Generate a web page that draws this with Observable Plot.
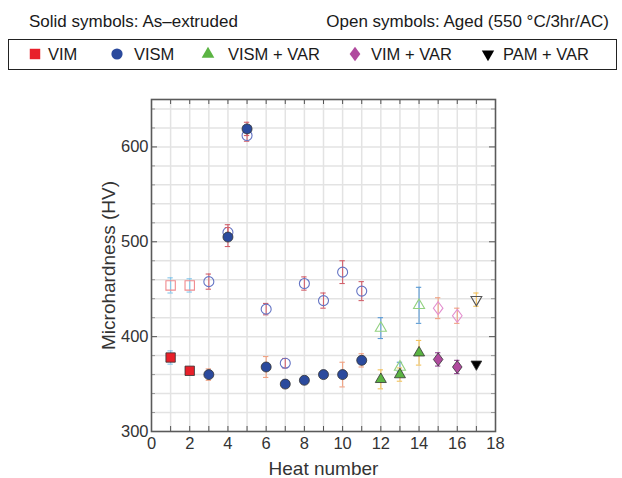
<!DOCTYPE html>
<html><head><meta charset="utf-8">
<script src="https://cdn.jsdelivr.net/npm/d3@7"></script>
<script src="https://cdn.jsdelivr.net/npm/@observablehq/plot@0.6"></script>
<style>
body{margin:0;width:622px;height:478px;position:relative;overflow:hidden;background:#fff;font-family:"Liberation Sans",Arial,sans-serif;color:#1a1a1a}
.hdr{position:absolute;top:12px;font-size:17px;line-height:19px;white-space:nowrap}
#legend{position:absolute;left:8px;top:38.5px;width:609px;height:31px;border:1.5px solid #222;box-sizing:border-box}
.sym{position:absolute;top:0}
.lt{position:absolute;font-size:16.5px;line-height:18px;white-space:nowrap}
#chart{position:absolute;left:0;top:78px}
#chart g[aria-label="x-axis label"] text,#chart g[aria-label="y-axis label"] text{font-size:19px}
</style></head>
<body>
<div class="hdr" style="left:29px">Solid symbols: As–extruded</div>
<div class="hdr" style="right:13px">Open symbols: Aged (550 °C/3hr/AC)</div>
<div id="legend"></div>
<div id="chart"></div>
<script>
// ---- data ----
const processes = ["VIM", "VISM", "VISM + VAR", "VIM + VAR", "PAM + VAR"];
const heats = [1, 2, 3, 4, 5, 6, 7, 8, 9, 10, 11, 12, 13, 14, 15, 16, 17];
const heatProcess = ["VIM", "VIM", "VISM", "VISM", "VISM", "VISM", "VISM", "VISM", "VISM", "VISM", "VISM",
  "VISM + VAR", "VISM + VAR", "VISM + VAR", "VIM + VAR", "VIM + VAR", "PAM + VAR"];
// As-extruded (solid symbols)
const solidHV  = [378, 364, 360, 505, 619, 368, 350, 354, 360, 360, 375, 355, 360, 383, 376, 368, 371];
const solidErr = [7, 1, 6, 10, 7, 11, 4, 4, 2, 13, 7, 10, 7, 13, 7, 7, 0];
// Aged 550 °C/3hr/AC (open symbols)
const agedHV  = [454, 454, 458, 510, 612, 429, 372, 456, 438, 468, 448, 409, 368, 433, 430, 422, 439];
const agedErr = [8, 7, 8, 8, 6, 6, 5, 7, 8, 12, 10, 11, 5, 19, 11, 8, 7];
const solidErrTone = ["lb", "lb", "sa", "rd", "rd", "sa", "sa", "sa", "rd", "sa", "sa", "ye", "ye", "ye", "pu", "pu", "ye"];
const agedErrTone  = ["lb", "lb", "rd", "rd", "rd", "rd", "rd", "rd", "rd", "rd", "rd", "bl", "bl", "bl", "sa", "sa", "ye"];

// ---- styles ----
const tones = {lb: "#86c6ea", bl: "#5b9bd5", rd: "#d2606b", sa: "#f0a283", ye: "#f3c35e", pu: "#8e408e"};
const downTriangle = {draw(ctx, size) {
  const y = -Math.sqrt(size / (Math.sqrt(3) * 3));
  ctx.moveTo(0, -2 * y); ctx.lineTo(-Math.sqrt(3) * y, y); ctx.lineTo(Math.sqrt(3) * y, y); ctx.closePath();
}};
const diamond = {draw(ctx, size) {
  const s = Math.sqrt(size), w = s * 0.52, h = s * 0.7;
  ctx.moveTo(0, -h); ctx.lineTo(w, 0); ctx.lineTo(0, h); ctx.lineTo(-w, 0); ctx.closePath();
}};
const procStyle = {
  "VIM":        {symbol: "square",   r: 5.3, fill: "#e8202a", open: "#f08a8e"},
  "VISM":       {symbol: "circle",   r: 5,   fill: "#2b4a9d", open: "#6474c4"},
  "VISM + VAR": {symbol: "triangle", r: 4.1, fill: "#5bb443", open: "#92d17f"},
  "VIM + VAR":  {symbol: diamond,    r: 5.2, fill: "#b04a9e", open: "#e38fcf"},
  "PAM + VAR":  {symbol: downTriangle, r: 4, fill: "#000000", open: "#555555"}
};

const rows = heats.map((h, i) => ({
  heat: h, process: heatProcess[i],
  solid: solidHV[i], solidErr: solidErr[i], solidTone: tones[solidErrTone[i]],
  aged: agedHV[i], agedErr: agedErr[i], agedTone: tones[agedErrTone[i]]
}));

// ---- legend ----
const legend = document.getElementById("legend");
const symX = [17, 99, 190, 337, 470];
const txtX = [39, 125, 219, 362, 494];
processes.forEach((p, i) => {
  const st = procStyle[p];
  const sym = typeof st.symbol === "string" ? {square: d3.symbolSquare, circle: d3.symbolCircle, triangle: d3.symbolTriangle}[st.symbol] : st.symbol;
  const svg = d3.create("svg").attr("class", "sym").attr("width", 18).attr("height", 28)
    .style("left", symX[i] + "px");
  svg.append("path").attr("transform", "translate(9,14)")
    .attr("d", d3.symbol(sym, Math.PI * (st.r + 0.6) ** 2)())
    .attr("fill", st.fill);
  legend.appendChild(svg.node());
  const t = document.createElement("div");
  t.className = "lt"; t.textContent = p;
  t.style.left = txtX[i] + "px"; t.style.top = "5px";
  legend.appendChild(t);
});

// ---- chart ----
const plotW = 622 - 151 - 127, plotH = 400 - 21 - 47;
const xTickVals = d3.range(1, 18);
const yMinor = d3.range(320, 650, 20).filter(v => v % 100 !== 0);
const yMajor = [400, 500, 600];

const marks = [
  Plot.gridX({ticks: xTickVals, stroke: "#e3e3e3", strokeOpacity: 1, strokeWidth: 1.5}),
  Plot.gridY({ticks: d3.range(320, 650, 20), stroke: "#e3e3e3", strokeOpacity: 1, strokeWidth: 1.5}),
  Plot.tickX(xTickVals, {x: d => d, insetTop: plotH - 5, stroke: "#555"}),
  Plot.tickX(xTickVals, {x: d => d, insetBottom: plotH - 5, stroke: "#555"}),
  Plot.tickY(yMinor, {y: d => d, insetRight: plotW - 4, stroke: "#999"}),
  Plot.tickY(yMinor, {y: d => d, insetLeft: plotW - 4, stroke: "#999"}),
  Plot.tickY(yMajor, {y: d => d, insetRight: plotW - 6, stroke: "#555"}),
  Plot.tickY(yMajor, {y: d => d, insetLeft: plotW - 6, stroke: "#555"}),
  Plot.frame({stroke: "#5a5a5a", strokeWidth: 1.6}),
  Plot.axisX({ticks: d3.range(0, 19, 2), tickSize: 0, tickPadding: 6, tickFormat: d => d, fill: "#333",
    label: "Heat number", labelAnchor: "center", labelOffset: 43, labelArrow: "none"}),
  Plot.axisY({ticks: [300, 400, 500, 600], tickSize: 0, tickPadding: 3, tickFormat: d => d, fill: "#333",
    label: "Microhardness (HV)", labelAnchor: "center", labelOffset: 50, labelArrow: "none"}),
];

// error bars (aged, then solid)
for (const k of ["aged", "solid"]) {
  const data = rows.filter(d => d[k + "Err"] > 0);
  marks.push(
    Plot.ruleX(data, {x: "heat", y1: d => d[k] - d[k + "Err"], y2: d => d[k] + d[k + "Err"], stroke: d => d[k + "Tone"], strokeWidth: 1.1}),
    Plot.ruleY(data, {y: d => d[k] - d[k + "Err"], x1: d => d.heat - 0.14, x2: d => d.heat + 0.14, stroke: d => d[k + "Tone"], strokeWidth: 1.1}),
    Plot.ruleY(data, {y: d => d[k] + d[k + "Err"], x1: d => d.heat - 0.14, x2: d => d.heat + 0.14, stroke: d => d[k + "Tone"], strokeWidth: 1.1})
  );
  if (k === "aged") {
    for (const p of processes) {
      const st = procStyle[p];
      marks.push(Plot.dot(rows.filter(d => d.process === p), {x: "heat", y: "aged", symbol: st.symbol, r: st.r,
        fill: "none", stroke: st.open, strokeWidth: 1.1}));
    }
  }
}
for (const p of processes) {
  const st = procStyle[p];
  marks.push(Plot.dot(rows.filter(d => d.process === p), {x: "heat", y: "solid", symbol: st.symbol, r: st.r,
    fill: st.fill, stroke: "#333", strokeWidth: 0.8}));
}

const chart = Plot.plot({
  width: 622, height: 400,
  marginLeft: 151, marginRight: 127, marginTop: 21, marginBottom: 47,
  x: {domain: [0, 18]},
  y: {domain: [300, 650]},
  style: {fontFamily: "'Liberation Sans', Arial, sans-serif", fontSize: "16.5px", color: "#333", background: "transparent"},
  marks
});
document.getElementById("chart").appendChild(chart);
</script>
</body></html>
